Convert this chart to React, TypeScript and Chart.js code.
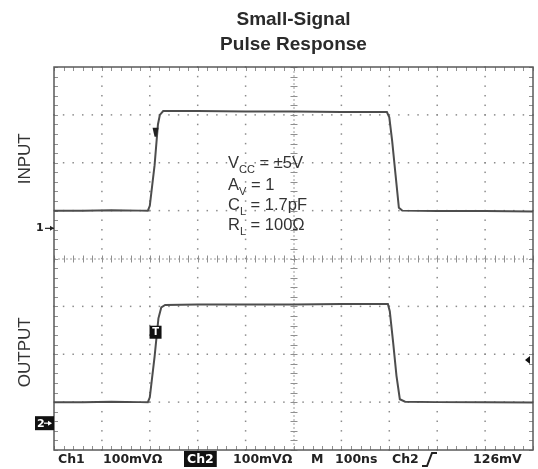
import React, { useEffect, useRef } from 'react';
import { Chart, registerables } from 'chart.js';

Chart.register(...registerables);

// Time axis in ns (100 ns/div, 10 divisions)
const xMin = 0;
const xMax = 1000;
const xStep = 100;
// Vertical axis in divisions (8 divisions, 100 mV/div)
const yMin = 0;
const yMax = 8;
const yStep = 1;

const titleLines = ['Small-Signal', 'Pulse Response'];
const inputLabel = 'INPUT';
const outputLabel = 'OUTPUT';

// INPUT trace (ch1)
const inputTime = [0, 60, 120, 180, 196, 200, 210, 217, 221, 228, 300, 400, 500, 600, 695, 700, 706, 713, 720, 727, 800, 900, 1000];
const inputLevel = [5.0, 5.0, 5.01, 5.0, 5.0, 5.1, 5.95, 6.8, 7.0, 7.08, 7.08, 7.07, 7.07, 7.06, 7.06, 6.95, 6.45, 5.75, 5.06, 5.0, 4.99, 4.99, 4.98];

// OUTPUT trace (ch2)
const outputTime = [0, 60, 120, 180, 196, 200, 210, 218, 224, 232, 300, 400, 500, 600, 697, 701, 708, 715, 722, 733, 800, 900, 1000];
const outputLevel = [1.0, 1.0, 1.01, 1.0, 1.0, 1.1, 1.95, 2.75, 2.98, 3.03, 3.04, 3.04, 3.04, 3.05, 3.05, 2.9, 2.25, 1.55, 1.06, 1.01, 1.0, 1.0, 0.99];

const condLines = [
  { main: 'V', sub: 'CC', rest: ' = ±5V' },
  { main: 'A', sub: 'V', rest: ' = 1' },
  { main: 'C', sub: 'L', rest: ' = 1.7pF' },
  { main: 'R', sub: 'L', rest: ' = 100Ω' },
];

const footerItems = [
  { text: 'Ch1', x: 58, inverted: false },
  { text: '100mVΩ', x: 103, inverted: false },
  { text: 'Ch2', x: 187, inverted: true },
  { text: '100mVΩ', x: 233, inverted: false },
  { text: 'M', x: 311, inverted: false },
  { text: '100ns', x: 335, inverted: false },
  { text: 'Ch2', x: 392, inverted: false },
  { text: '126mV', x: 473, inverted: false },
];

const ch1Marker = 4.63;
const ch2Marker = 0.56;
const trigLevelMarker = 1.88;
const trigTime = 212;

const scopePlugin = {
  id: 'scopeDecor',
  beforeDatasetsDraw(chart: any) {
    const { ctx, chartArea: a, scales } = chart;
    const xs = scales.x;
    const ys = scales.y;
    ctx.save();
    // dotted grid
    ctx.fillStyle = '#8c8c8c';
    for (let xv = xMin + xStep; xv < xMax; xv += xStep) {
      if (xv === 500) continue;
      const px = xs.getPixelForValue(xv);
      for (let k = 0; k <= 40; k++) {
        const py = ys.getPixelForValue(yMin + (k * (yMax - yMin)) / 40);
        ctx.fillRect(px - 0.75, py - 0.75, 1.5, 1.5);
      }
    }
    for (let yv = yMin + yStep; yv < yMax; yv += yStep) {
      if (yv === 4) continue;
      const py = ys.getPixelForValue(yv);
      for (let k = 0; k <= 50; k++) {
        const px = xs.getPixelForValue(xMin + (k * (xMax - xMin)) / 50);
        ctx.fillRect(px - 0.75, py - 0.75, 1.5, 1.5);
      }
    }
    // center crosshair with ticks
    const cx = xs.getPixelForValue(500);
    const cy = ys.getPixelForValue(4);
    ctx.strokeStyle = '#a0a0a0';
    ctx.lineWidth = 1;
    ctx.setLineDash([2, 2]);
    ctx.beginPath();
    ctx.moveTo(a.left, cy + 0.5);
    ctx.lineTo(a.right, cy + 0.5);
    ctx.moveTo(cx + 0.5, a.top);
    ctx.lineTo(cx + 0.5, a.bottom);
    ctx.stroke();
    ctx.setLineDash([]);
    ctx.strokeStyle = '#909090';
    ctx.beginPath();
    for (let k = 0; k <= 50; k++) {
      const px = Math.round(xs.getPixelForValue(xMin + (k * (xMax - xMin)) / 50)) + 0.5;
      ctx.moveTo(px, cy - 3);
      ctx.lineTo(px, cy + 4);
      ctx.moveTo(px, a.top);
      ctx.lineTo(px, a.top + 4);
      ctx.moveTo(px, a.bottom);
      ctx.lineTo(px, a.bottom - 4);
    }
    for (let k = 0; k <= 40; k++) {
      const py = Math.round(ys.getPixelForValue(yMin + (k * (yMax - yMin)) / 40)) + 0.5;
      ctx.moveTo(cx - 3, py);
      ctx.lineTo(cx + 4, py);
      ctx.moveTo(a.left, py);
      ctx.lineTo(a.left + 4, py);
      ctx.moveTo(a.right, py);
      ctx.lineTo(a.right - 4, py);
    }
    ctx.stroke();
    // frame
    ctx.strokeStyle = '#5a5a5a';
    ctx.lineWidth = 1.5;
    ctx.strokeRect(a.left, a.top, a.right - a.left, a.bottom - a.top);
    ctx.restore();
  },
  afterDraw(chart: any) {
    const { ctx, chartArea: a, scales } = chart;
    const xs = scales.x;
    const ys = scales.y;
    ctx.save();
    const midX = (a.left + a.right) / 2;
    // title
    ctx.fillStyle = '#2a2a2a';
    ctx.font = 'bold 19px "Liberation Sans", Arial, sans-serif';
    ctx.textAlign = 'center';
    ctx.textBaseline = 'middle';
    ctx.fillText(titleLines[0], midX, 20);
    ctx.fillText(titleLines[1], midX, 45);

    // axis labels (rotated)
    ctx.font = '17px "Liberation Sans", Arial, sans-serif';
    ctx.fillStyle = '#333';
    const upperMid = (ys.getPixelForValue(8) + ys.getPixelForValue(4)) / 2;
    const lowerMid = (ys.getPixelForValue(4) + ys.getPixelForValue(0)) / 2;
    [[inputLabel, upperMid - 4], [outputLabel, lowerMid - 2]].forEach(([t, y]) => {
      ctx.save();
      ctx.translate(25, y as number);
      ctx.rotate(-Math.PI / 2);
      ctx.fillText(t as string, 0, 0);
      ctx.restore();
    });

    // conditions text
    ctx.textAlign = 'left';
    ctx.textBaseline = 'alphabetic';
    ctx.fillStyle = '#333';
    const baselines = [168, 190, 210, 230];
    condLines.forEach((ln, i) => {
      let x = 228;
      const y = baselines[i];
      ctx.font = '16.5px "Liberation Sans", Arial, sans-serif';
      ctx.fillText(ln.main, x, y);
      x += ctx.measureText(ln.main).width;
      ctx.font = '11px "Liberation Sans", Arial, sans-serif';
      ctx.fillText(ln.sub, x, y + 5);
      x += ctx.measureText(ln.sub).width;
      ctx.font = '16.5px "Liberation Sans", Arial, sans-serif';
      ctx.fillText(ln.rest, x, y);
    });

    // channel ground markers
    const y1 = ys.getPixelForValue(ch1Marker);
    ctx.fillStyle = '#222';
    ctx.font = 'bold 11px "DejaVu Sans", sans-serif';
    ctx.textBaseline = 'middle';
    ctx.fillText('1', 36, y1);
    ctx.strokeStyle = '#222';
    ctx.lineWidth = 1.2;
    ctx.beginPath();
    ctx.moveTo(45, y1);
    ctx.lineTo(a.left, y1);
    ctx.stroke();
    ctx.beginPath();
    ctx.moveTo(a.left, y1);
    ctx.lineTo(a.left - 4, y1 - 2.5);
    ctx.lineTo(a.left - 4, y1 + 2.5);
    ctx.closePath();
    ctx.fill();

    const y2 = ys.getPixelForValue(ch2Marker);
    ctx.fillStyle = '#111';
    ctx.fillRect(35, y2 - 7, a.left - 35, 14);
    ctx.fillStyle = '#fff';
    ctx.fillText('2', 37, y2 + 0.5);
    ctx.beginPath();
    ctx.moveTo(a.left - 2, y2);
    ctx.lineTo(a.left - 6, y2 - 2.5);
    ctx.lineTo(a.left - 6, y2 + 2.5);
    ctx.closePath();
    ctx.fill();
    ctx.fillRect(44, y2 - 0.6, 6, 1.2);

    // trigger marks
    const tx = xs.getPixelForValue(trigTime);
    const tyIn = ys.getPixelForValue(6.65);
    ctx.fillStyle = '#222';
    ctx.beginPath();
    ctx.moveTo(tx - 3, tyIn - 4);
    ctx.lineTo(tx + 3, tyIn - 4);
    ctx.lineTo(tx + 1, tyIn + 5);
    ctx.lineTo(tx - 1, tyIn + 5);
    ctx.closePath();
    ctx.fill();

    const tyOut = ys.getPixelForValue(2.46);
    ctx.fillStyle = '#111';
    ctx.fillRect(tx - 6, tyOut - 6.5, 12, 13);
    ctx.fillStyle = '#fff';
    ctx.font = 'bold 10px "DejaVu Sans", sans-serif';
    ctx.textAlign = 'center';
    ctx.fillText('T', tx, tyOut + 0.5);

    // trigger level marker at right edge
    const tl = ys.getPixelForValue(trigLevelMarker);
    ctx.fillStyle = '#111';
    ctx.beginPath();
    ctx.moveTo(a.right - 8, tl);
    ctx.lineTo(a.right - 3, tl - 4);
    ctx.lineTo(a.right - 3, tl + 4);
    ctx.closePath();
    ctx.fill();

    // footer
    ctx.textAlign = 'left';
    ctx.textBaseline = 'middle';
    ctx.font = 'bold 12.5px "DejaVu Sans", sans-serif';
    const fy = 459;
    footerItems.forEach((it) => {
      if (it.inverted) {
        const w = ctx.measureText(it.text).width;
        ctx.fillStyle = '#111';
        ctx.fillRect(it.x - 3, fy - 8, w + 6, 16);
        ctx.fillStyle = '#fff';
      } else {
        ctx.fillStyle = '#222';
      }
      ctx.fillText(it.text, it.x, fy + 1);
    });
    // rising-edge trigger glyph
    ctx.strokeStyle = '#222';
    ctx.lineWidth = 2;
    ctx.beginPath();
    ctx.moveTo(422, 466);
    ctx.lineTo(427, 466);
    ctx.lineTo(432, 453);
    ctx.lineTo(437, 453);
    ctx.stroke();
    ctx.restore();
  },
};

export default function App() {
  const ref = useRef<HTMLCanvasElement>(null);
  useEffect(() => {
    if (!ref.current) return;
    const chart = new Chart(ref.current, {
      type: 'line',
      data: {
        datasets: [
          {
            label: inputLabel,
            data: inputTime.map((t, i) => ({ x: t, y: inputLevel[i] })),
            borderColor: '#4d4d4d',
            borderWidth: 2,
            pointRadius: 0,
            tension: 0,
          },
          {
            label: outputLabel,
            data: outputTime.map((t, i) => ({ x: t, y: outputLevel[i] })),
            borderColor: '#4d4d4d',
            borderWidth: 2,
            pointRadius: 0,
            tension: 0,
          },
        ],
      },
      options: {
        animation: false,
        responsive: false,
        devicePixelRatio: 1,
        layout: { padding: { left: 54, right: 5, top: 67, bottom: 19 } },
        plugins: {
          legend: { display: false },
          tooltip: { enabled: false },
          title: { display: false },
        },
        scales: {
          x: { type: 'linear', min: xMin, max: xMax, display: false, ticks: { stepSize: xStep } },
          y: { type: 'linear', min: yMin, max: yMax, display: false, ticks: { stepSize: yStep } },
        },
      },
      plugins: [scopePlugin],
    } as any);
    return () => chart.destroy();
  }, []);
  return (
    <div style={{ position: 'fixed', left: 0, top: 0, width: 538, height: 469, background: '#fff' }}>
      <canvas ref={ref} width={538} height={469} style={{ display: 'block' }} />
    </div>
  );
}
